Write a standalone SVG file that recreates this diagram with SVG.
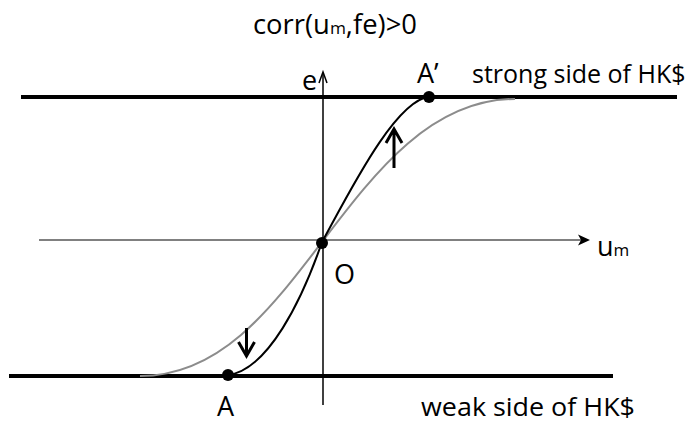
<svg xmlns="http://www.w3.org/2000/svg" width="700" height="424" viewBox="0 0 700 424">
<style>
text{font-family:"Open Sans","Liberation Sans",sans-serif;fill:#000;font-size:27px}
.side{font-size:25px}
.sub{font-size:17px}
.thick{stroke:#000;stroke-width:4;fill:none}
.axis{stroke:#000;stroke-width:1.5;fill:none}
.gaxis{stroke:#808080;stroke-width:2;fill:none}
.gcurve{stroke:#8c8c8c;stroke-width:2;fill:none}
.bcurve{stroke:#000;stroke-width:2;fill:none}
.arr{stroke:#000;stroke-width:3;fill:none;stroke-linecap:butt}
.dot{fill:#000}
</style>
<g id="connectors">
<line class="thick" x1="21" y1="97" x2="677" y2="97"/>
<line class="thick" x1="9" y1="376" x2="613" y2="376"/>
<line class="gaxis" x1="39" y1="240" x2="585" y2="240"/>
<path d="M590,240 L578,234.5 L581,240 L578,245.5 Z" fill="#000"/>
<line class="axis" x1="323" y1="73" x2="323" y2="405"/>
<path class="axis" d="M319,83 L323,72 L327,83"/>
<path class="gcurve" d="M140,376 C220,376 270,310 322,242 C374,174 430,99 515,99"/>
<path class="bcurve" d="M228,375 C268,370 302,300 322,242 C348,195 395,100 429,97"/>
<path class="arr" d="M394,168 L394,130 M386,143 L394,129 L402,143"/>
<path class="arr" d="M246.5,328 L246.5,356 M238.5,342 L246.5,356 L254.5,342"/>
</g>
<g id="node-title"><text x="253" y="34" textLength="164" lengthAdjust="spacingAndGlyphs">corr(u<tspan class="sub">m</tspan>,fe)&gt;0</text></g>
<g id="node-e"><text x="302" y="90">e</text></g>
<g id="node-Aprime"><circle class="dot" cx="429" cy="97" r="6"/><text x="417" y="83">A’</text></g>
<g id="node-strong"><text class="side" x="472" y="83">strong side of HK$</text></g>
<g id="node-O"><circle class="dot" cx="322" cy="243" r="6"/><text x="334" y="284">O</text></g>
<g id="node-um"><text x="597" y="256">u<tspan class="sub">m</tspan></text></g>
<g id="node-A"><circle class="dot" cx="228" cy="375" r="6"/><text x="217" y="416">A</text></g>
<g id="node-weak"><text class="side" x="421" y="416" textLength="214" lengthAdjust="spacingAndGlyphs">weak side of HK$</text></g>
</svg>
